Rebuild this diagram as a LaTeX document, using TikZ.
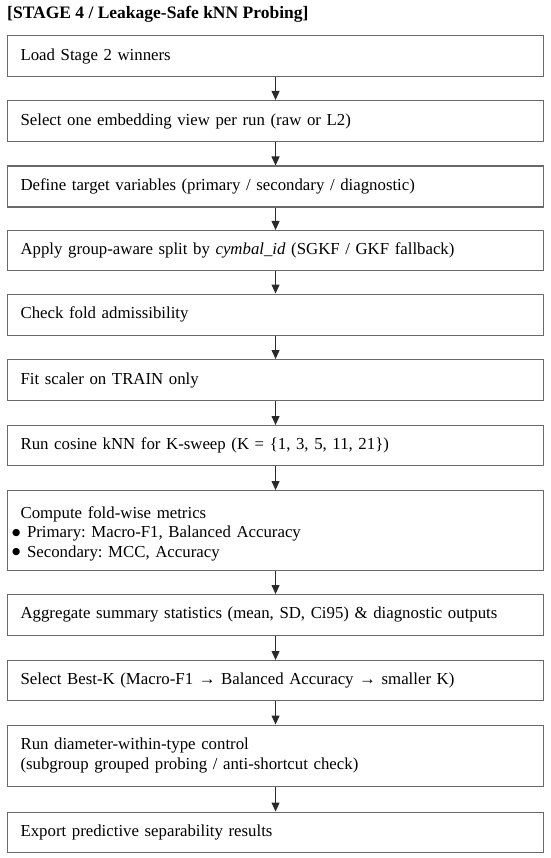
\documentclass[tikz,border=0pt]{standalone}
\usepackage{fontspec}
\setmainfont{Liberation Serif}
\newfontfamily\symfam{DejaVu Sans}
\usetikzlibrary{arrows.meta}
\definecolor{boxline}{HTML}{6A6A6A}
\definecolor{arrowcol}{HTML}{2A2A2A}
\newcommand\bigdot{\raisebox{2.6pt}{\symfam\fontsize{9.5}{12}\selectfont ●}}
\tikzset{
  stepbox/.style={draw=boxline, line width=1.1pt, anchor=north west,
    minimum width=536pt, text width=510pt, inner xsep=13pt, inner ysep=2pt,
    align=left, font=\fontsize{16.8}{19.5}\selectfont\frenchspacing},
  flow/.style={draw=arrowcol, line width=1pt, -{Triangle[length=9pt,width=8pt]}},
  titletext/.style={anchor=west, inner sep=0pt, font=\fontsize{17.5}{19}\selectfont\bfseries}
}
\begin{document}
\begin{tikzpicture}[x=1pt,y=-1pt]
\useasboundingbox (0,0) rectangle (550,858);
\node[titletext] (title) at (7,14) {[STAGE 4 / Leakage-Safe kNN Probing]};
\node[stepbox, minimum height=41pt] (b1) at (7,35) {Load Stage 2 winners};
\node[stepbox, minimum height=41pt] (b2) at (7,100) {Select one embedding view per run (raw or L2)};
\node[stepbox, minimum height=41pt] (b3) at (7,165.5) {Define target variables (primary / secondary / diagnostic)};
\node[stepbox, minimum height=40pt] (b4) at (7,230) {Apply group-aware split by \textit{cymbal\_id} (SGKF / GKF fallback)};
\node[stepbox, minimum height=41pt] (b5) at (7,293.5) {Check fold admissibility};
\node[stepbox, minimum height=41pt] (b6) at (7,359) {Fit scaler on TRAIN only};
\node[stepbox, minimum height=40pt] (b7) at (7,425) {Run cosine kNN for K-sweep (K = \{1, 3, 5, 11, 21\})};
\node[stepbox, minimum height=80pt] (b8) at (7,490) {\rule{0pt}{18pt}Compute fold-wise metrics\\
\hspace*{-8.5pt}\makebox[15pt][l]{\bigdot}Primary: Macro-F1, Balanced Accuracy\\
\hspace*{-8.5pt}\makebox[15pt][l]{\bigdot}Secondary: MCC, Accuracy};
\node[stepbox, minimum height=40.5pt] (b9) at (7,594) {Aggregate summary statistics (mean, SD, Ci95) \& diagnostic outputs};
\node[stepbox, minimum height=40pt] (b10) at (7,660) {Select Best-K (Macro-F1 → Balanced Accuracy → smaller K)};
\node[stepbox, minimum height=61pt] (b11) at (7,724.5) {Run diameter-within-type control\\(subgroup grouped probing / anti-shortcut check)};
\node[stepbox, minimum height=40pt] (b12) at (7,811.5) {Export predictive separability results};
\foreach \a/\b in {b1/b2,b2/b3,b3/b4,b4/b5,b5/b6,b6/b7,b7/b8,b8/b9,b9/b10,b10/b11,b11/b12}
  \draw[flow] (\a.south) -- (\b.north);
\end{tikzpicture}
\end{document}
